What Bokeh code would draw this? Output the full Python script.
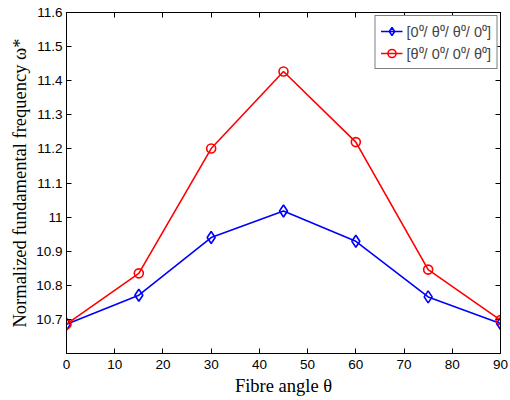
from bokeh.plotting import figure
from bokeh.models import LinearAxis, FixedTicker, CustomJSTickFormatter, Range1d, Legend, LegendItem
from bokeh.embed import file_html
from bokeh.resources import INLINE

angles = [0, 15, 30, 45, 60, 75, 90]
series_a = [10.686, 10.771, 10.940, 11.018, 10.929, 10.766, 10.688]   # [0/θ/θ/0]
series_b = [10.686, 10.835, 11.201, 11.427, 11.220, 10.846, 10.698]   # [θ/0/0/θ]
label_a = "[0\u2070/ \u03b8\u2070/ \u03b8\u2070/ 0\u2070]"
label_b = "[\u03b8\u2070/ 0\u2070/ 0\u2070/ \u03b8\u2070]"
x_ticks = [0, 10, 20, 30, 40, 50, 60, 70, 80, 90]
y_ticks = [10.7, 10.8, 10.9, 11.0, 11.1, 11.2, 11.3, 11.4, 11.5, 11.6]

p = figure(width=510, height=400, output_backend="svg", toolbar_location=None,
           x_range=Range1d(0, 90), y_range=Range1d(10.6, 11.6),
           min_border_left=66, min_border_right=10, min_border_top=12, min_border_bottom=47)
p.xgrid.visible = False
p.ygrid.visible = False
p.outline_line_color = "black"
p.outline_line_width = 1
p.background_fill_color = "white"
p.border_fill_color = "white"

fmt = CustomJSTickFormatter(code="return String(Number(tick.toFixed(1)));")

def style(ax, labels=True):
    ax.major_tick_in = 5
    ax.major_tick_out = 0
    ax.minor_tick_line_color = None
    ax.axis_line_color = "black"
    ax.major_tick_line_color = "black"
    ax.major_label_text_font = "Liberation Sans"
    ax.major_label_text_font_size = "13.5px"
    ax.major_label_text_color = "black"
    if not labels:
        ax.major_label_text_font_size = "0px"
        ax.major_label_text_alpha = 0

xa = p.xaxis[0]
xa.ticker = FixedTicker(ticks=x_ticks)
xa.formatter = fmt
style(xa)
xa.major_label_standoff = 6
xa.axis_label = "Fibre angle \u03b8"
xa.axis_label_text_font = "Liberation Serif"
xa.axis_label_text_font_size = "18.5px"
xa.axis_label_text_font_style = "normal"
xa.axis_label_text_color = "black"
xa.axis_label_standoff = 4

ya = p.yaxis[0]
ya.ticker = FixedTicker(ticks=y_ticks)
ya.formatter = fmt
style(ya)
ya.major_label_standoff = 4
ya.axis_label = "Normalized fundamental frequency \u03c9*"
ya.axis_label_text_font = "Liberation Serif"
ya.axis_label_text_font_size = "18.5px"
ya.axis_label_text_font_style = "normal"
ya.axis_label_text_color = "black"
ya.axis_label_standoff = 3

top = LinearAxis(ticker=FixedTicker(ticks=x_ticks), formatter=fmt)
style(top, labels=False)
p.add_layout(top, "above")
right = LinearAxis(ticker=FixedTicker(ticks=y_ticks), formatter=fmt)
style(right, labels=False)
p.add_layout(right, "right")

la = p.line(angles, series_a, line_color="blue", line_width=1.6)
sa = p.scatter(angles, series_a, marker="diamond", size=12, line_color="blue",
               fill_color=None, line_width=1.6)
lb = p.line(angles, series_b, line_color="red", line_width=1.6)
sb = p.scatter(angles, series_b, marker="circle", size=9, line_color="red",
               fill_color=None, line_width=1.6)

legend = Legend(items=[LegendItem(label=label_a, renderers=[la, sa]),
                       LegendItem(label=label_b, renderers=[lb, sb])],
                location="top_right")
legend.margin = 3
legend.padding = 5
legend.spacing = 2
legend.glyph_width = 22
legend.label_standoff = 4
legend.label_text_font = "Liberation Sans"
legend.label_text_font_size = "14.5px"
legend.border_line_color = "black"
legend.border_line_width = 1
legend.background_fill_alpha = 1
p.add_layout(legend, "center")

open("out.html", "w").write(file_html(p, INLINE))
